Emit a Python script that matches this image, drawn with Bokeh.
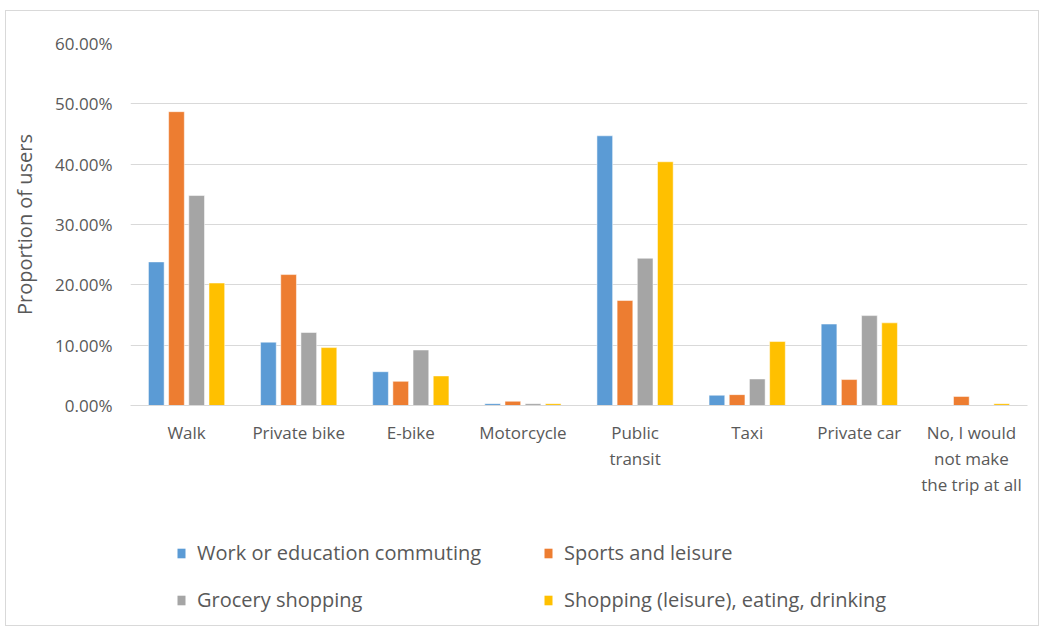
from bokeh.plotting import figure
from bokeh.layouts import column
from bokeh.models import (ColumnDataSource, NumeralTickFormatter, Legend, LegendItem,
                          LinearAxis, Range1d, FixedTicker)
from bokeh.transform import dodge
from bokeh.embed import file_html
from bokeh.resources import INLINE

modes = ["Walk", "Private bike", "E-bike", "Motorcycle", "Public transit", "Taxi",
         "Private car", "No, I would not make the trip at all"]
label_line1 = ["Walk", "Private bike", "E-bike", "Motorcycle", "Public", "Taxi",
               "Private car", "No, I would"]
label_line2 = ["", "", "", "", "transit", "", "", "not make"]
label_line3 = ["", "", "", "", "", "", "", "the trip at all"]
series_names = ["Work or education commuting", "Sports and leisure",
                "Grocery shopping", "Shopping (leisure), eating, drinking"]
work = [0.238, 0.105, 0.056, 0.003, 0.447, 0.017, 0.135, 0.000]
sports = [0.487, 0.217, 0.040, 0.007, 0.174, 0.018, 0.043, 0.015]
grocery = [0.348, 0.121, 0.092, 0.003, 0.244, 0.044, 0.149, 0.000]
shopping = [0.203, 0.096, 0.049, 0.003, 0.404, 0.106, 0.137, 0.003]
colors = ["#5B9BD5", "#ED7D31", "#A5A5A5", "#FFC000"]

positions = list(range(len(modes)))
source = ColumnDataSource(dict(pos=positions, mode=modes, work=work, sports=sports,
                               grocery=grocery, shopping=shopping))
keys = ["work", "sports", "grocery", "shopping"]

FONT = "Open Sans"
TXT = "#595959"
BORDER = "1px solid #d9d9d9"

p = figure(x_range=Range1d(-0.5, len(modes) - 0.5), y_range=(0, 0.6),
           width=1034, height=500, output_backend="svg", toolbar_location=None,
           min_border_left=124, min_border_right=13, min_border_top=32, min_border_bottom=106,
           x_axis_location=None,
           styles={"margin-left": "5px", "margin-top": "10px", "border-top": BORDER,
                   "border-left": BORDER, "border-right": BORDER})

offsets = [-0.27, -0.09, 0.09, 0.27]
for key, off, col in zip(keys, offsets, colors):
    p.vbar(x=dodge("pos", off), top=key, width=0.14, source=source,
           fill_color=col, line_color="white", line_width=0.5)

p.outline_line_color = None
p.xgrid.grid_line_color = None
p.ygrid.grid_line_color = "#d9d9d9"
p.ygrid.grid_line_width = 1
p.yaxis.ticker = [0, 0.1, 0.2, 0.3, 0.4, 0.5, 0.6]
p.yaxis.formatter = NumeralTickFormatter(format="0.00%")
p.yaxis.axis_line_color = None
p.yaxis.major_tick_line_color = None
p.yaxis.minor_tick_line_color = None
p.yaxis.major_tick_out = 0
p.yaxis.major_label_standoff = 18
p.yaxis.major_label_text_font = FONT
p.yaxis.major_label_text_font_size = "17px"
p.yaxis.major_label_text_color = TXT
p.yaxis.axis_label = "Proportion of users"
p.yaxis.axis_label_text_font = FONT
p.yaxis.axis_label_text_font_size = "20px"
p.yaxis.axis_label_text_font_style = "normal"
p.yaxis.axis_label_text_color = TXT
p.yaxis.axis_label_standoff = 14

standoffs = [15, 0, 0]
for i, (lines, so) in enumerate(zip([label_line1, label_line2, label_line3], standoffs)):
    ax = LinearAxis(ticker=FixedTicker(ticks=positions, minor_ticks=[]),
                    major_label_overrides={k: v for k, v in zip(positions, lines)})
    ax.axis_line_color = "#d9d9d9" if i == 0 else None
    ax.major_tick_line_color = None
    ax.minor_tick_line_color = None
    ax.major_tick_out = 0
    ax.major_tick_in = 0
    ax.major_label_standoff = so
    ax.major_label_text_font = FONT
    ax.major_label_text_font_size = "17px"
    ax.major_label_text_color = TXT
    ax.major_label_orientation = "horizontal"
    p.add_layout(ax, "below")

# legend panel (separate figure so the legend is not clipped by the plot frame);
# its ranges are set away from the data so only the legend swatches show
lg = figure(x_range=Range1d(100, 101), y_range=Range1d(100, 101), width=1034, height=116,
            output_backend="svg", toolbar_location=None, min_border=0,
            x_axis_location=None, y_axis_location=None,
            styles={"margin-left": "5px", "border-left": BORDER, "border-right": BORDER,
                    "border-bottom": BORDER})
lg.outline_line_color = None
lg.grid.grid_line_color = None
items = []
for name, key, col in zip(series_names, keys, colors):
    r = lg.vbar(x="pos", top=key, width=0.14, source=source,
                fill_color=col, line_color=None)
    items.append(LegendItem(label=name, renderers=[r]))

legend = Legend(items=items, orientation="horizontal", ncols=2,
                location=(46, 13), label_text_font=FONT, label_text_font_size="20px",
                label_text_color=TXT, glyph_width=10, glyph_height=12, label_standoff=11,
                label_width=326, spacing=20, padding=0, margin=0,
                border_line_color=None, background_fill_alpha=0)
lg.add_layout(legend, "center")

layout = column(p, lg, spacing=0)
open("out.html", "w").write(file_html(layout, INLINE))
